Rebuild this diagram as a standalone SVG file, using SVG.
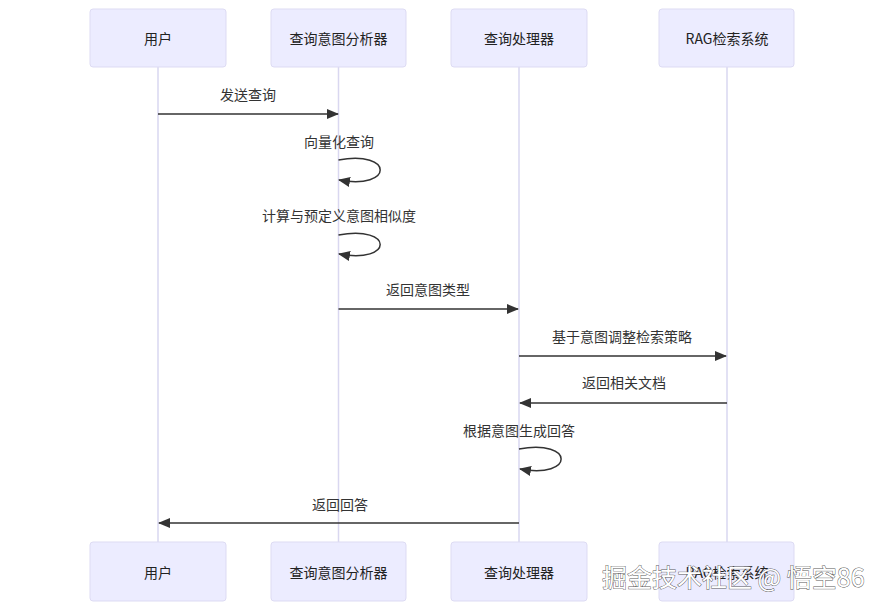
<svg xmlns="http://www.w3.org/2000/svg" width="885" height="611" viewBox="0 0 885 611">
<style>
  .actor rect { fill: #ececff; stroke: #dddbf3; stroke-width: 1; }
  .actor text { font-family: "Noto Sans CJK SC", "Liberation Sans", sans-serif; font-size: 14px; fill: #222; text-anchor: middle; dominant-baseline: central; }
  .life { stroke: #d9d7f0; stroke-width: 1.5; fill: none; }
  .msg { stroke: #333; stroke-width: 1.5; fill: none; }
  .lbl { font-family: "Noto Sans CJK SC", "Liberation Sans", sans-serif; font-size: 14px; fill: #333; text-anchor: middle; dominant-baseline: central; }
  .wm { font-family: "Noto Sans CJK SC", "Liberation Sans", sans-serif; font-size: 25px; fill: #fff; stroke: #5a5a5a; stroke-width: 0.9; paint-order: stroke; }
</style>
<defs>
  <marker id="arrow" viewBox="0 0 12 10" refX="11" refY="5" markerWidth="12" markerHeight="10" markerUnits="userSpaceOnUse" orient="auto">
    <path d="M0,0 L12,5 L0,10 z" fill="#333"/>
  </marker>
</defs>
<rect width="885" height="611" fill="#fff"/>
<g id="lifelines">
  <line class="life" x1="158" y1="67" x2="158" y2="542"/>
  <line class="life" x1="338.5" y1="67" x2="338.5" y2="542"/>
  <line class="life" x1="519" y1="67" x2="519" y2="542"/>
  <line class="life" x1="727" y1="67" x2="727" y2="542"/>
</g>
<g id="user-top" class="actor"><rect x="90" y="9" width="136" height="58" rx="3"/><text x="158" y="38">用户</text></g>
<g id="analyzer-top" class="actor"><rect x="271" y="9" width="135" height="58" rx="3"/><text x="338.5" y="38">查询意图分析器</text></g>
<g id="processor-top" class="actor"><rect x="451" y="9" width="136" height="58" rx="3"/><text x="519" y="38">查询处理器</text></g>
<g id="rag-top" class="actor"><rect x="659" y="9" width="135" height="58" rx="3"/><text x="727" y="38">RAG检索系统</text></g>
<g id="user-bottom" class="actor"><rect x="90" y="542" width="136" height="59" rx="3"/><text x="158" y="572">用户</text></g>
<g id="analyzer-bottom" class="actor"><rect x="271" y="542" width="135" height="59" rx="3"/><text x="338.5" y="572">查询意图分析器</text></g>
<g id="processor-bottom" class="actor"><rect x="451" y="542" width="136" height="59" rx="3"/><text x="519" y="572">查询处理器</text></g>
<g id="rag-bottom" class="actor"><rect x="659" y="542" width="135" height="59" rx="3"/><text x="727" y="572">RAG检索系统</text></g>
<g id="connectors">
  <line class="msg" x1="158" y1="114" x2="338" y2="114" marker-end="url(#arrow)"/>
  <text class="lbl" x="248" y="94">发送查询</text>
  <path class="msg" d="M338.5,160 C394,150 394,190 339,180" marker-end="url(#arrow)"/>
  <text class="lbl" x="339" y="141">向量化查询</text>
  <path class="msg" d="M338.5,235 C394,225 394,264 339,254" marker-end="url(#arrow)"/>
  <text class="lbl" x="339" y="215">计算与预定义意图相似度</text>
  <line class="msg" x1="338.5" y1="309" x2="518" y2="309" marker-end="url(#arrow)"/>
  <text class="lbl" x="428" y="289">返回意图类型</text>
  <line class="msg" x1="519" y1="356" x2="726" y2="356" marker-end="url(#arrow)"/>
  <text class="lbl" x="622" y="336">基于意图调整检索策略</text>
  <line class="msg" x1="727" y1="403" x2="520" y2="403" marker-end="url(#arrow)"/>
  <text class="lbl" x="624" y="382">返回相关文档</text>
  <path class="msg" d="M519,449 C575,439 575,479 520,469" marker-end="url(#arrow)"/>
  <text class="lbl" x="519" y="430">根据意图生成回答</text>
  <line class="msg" x1="519" y1="523" x2="159" y2="523" marker-end="url(#arrow)"/>
  <text class="lbl" x="340" y="504">返回回答</text>
</g>
<text class="wm" x="602" y="587">掘金技术社区 @ 悟空86</text>
</svg>
